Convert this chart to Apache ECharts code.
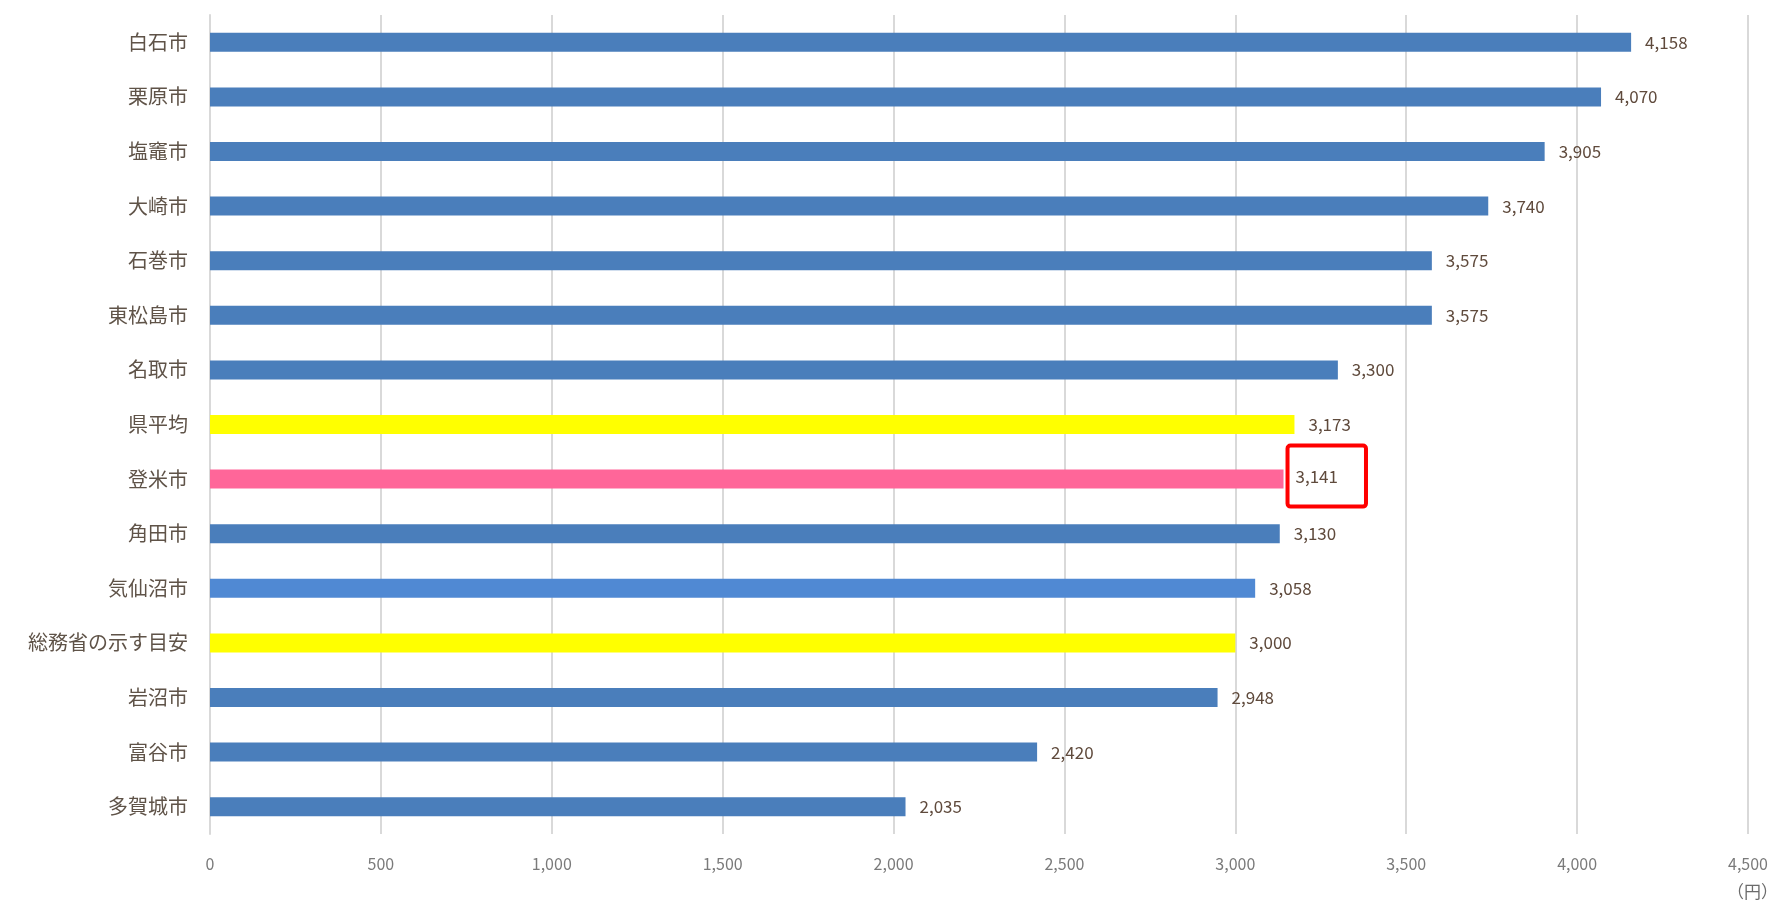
<!DOCTYPE html>
<html><head><meta charset="utf-8">
<script src="https://cdn.jsdelivr.net/npm/echarts@6/dist/echarts.min.js"></script>
<style>html,body{margin:0;padding:0;background:#fff}#c{width:1786px;height:904px}</style>
</head><body><div id="c"></div>
<script>
const categories = ['白石市','栗原市','塩竈市','大崎市','石巻市','東松島市','名取市','県平均','登米市','角田市','気仙沼市','総務省の示す目安','岩沼市','富谷市','多賀城市'];
const values = [4158,4070,3905,3740,3575,3575,3300,3173,3141,3130,3058,3000,2948,2420,2035];
const barColors = ['#4a7ebb','#4a7ebb','#4a7ebb','#4a7ebb','#4a7ebb','#4a7ebb','#4a7ebb','#ffff00','#ff6699','#4a7ebb','#5089d3','#ffff00','#4a7ebb','#4a7ebb','#4a7ebb'];
const highlighted = '登米市';
const xTicks = {min:0, max:4500, interval:500};
const unitLabel = '（円）';

const font = '"Noto Sans CJK JP","Noto Sans",sans-serif';
const data = values.map((v,i)=>{
  const item = {value:v, itemStyle:{color:barColors[i]}};
  if (categories[i]===highlighted) {
    item.label = {borderColor:'#ff0000', borderWidth:4, borderRadius:3, padding:[36,28,8,8], distance:4, offset:[0,-3]};
  }
  return item;
});
const chart = echarts.init(document.getElementById('c'));
chart.setOption({
  animation:false,
  grid:{left:210, right:38, top:15, bottom:70, containLabel:false},
  xAxis:{type:'value', min:xTicks.min, max:xTicks.max, interval:xTicks.interval,
    axisLine:{show:false}, axisTick:{show:false},
    splitLine:{lineStyle:{color:'#d9d9d9', width:2}},
    axisLabel:{color:'#7a7a7a', fontSize:16, fontFamily:font, margin:22,
      formatter:v=>v.toLocaleString('en-US')}},
  yAxis:{type:'category', data:categories, inverse:true,
    axisLine:{show:true, lineStyle:{color:'#d9d9d9', width:2}}, axisTick:{show:false},
    axisLabel:{color:'#5f5348', fontSize:20, fontFamily:font, margin:22}},
  graphic:[{type:'text', right:8, bottom:4, style:{text:unitLabel, fill:'#6b6b6b', font:'17px '+font}}],
  series:[{type:'bar', data:data, barWidth:19,
    label:{show:true, position:'right', distance:14, color:'#5f4a3c', fontSize:17, fontFamily:font,
      formatter:p=>p.value.toLocaleString('en-US')}}]
});
</script></body></html>
